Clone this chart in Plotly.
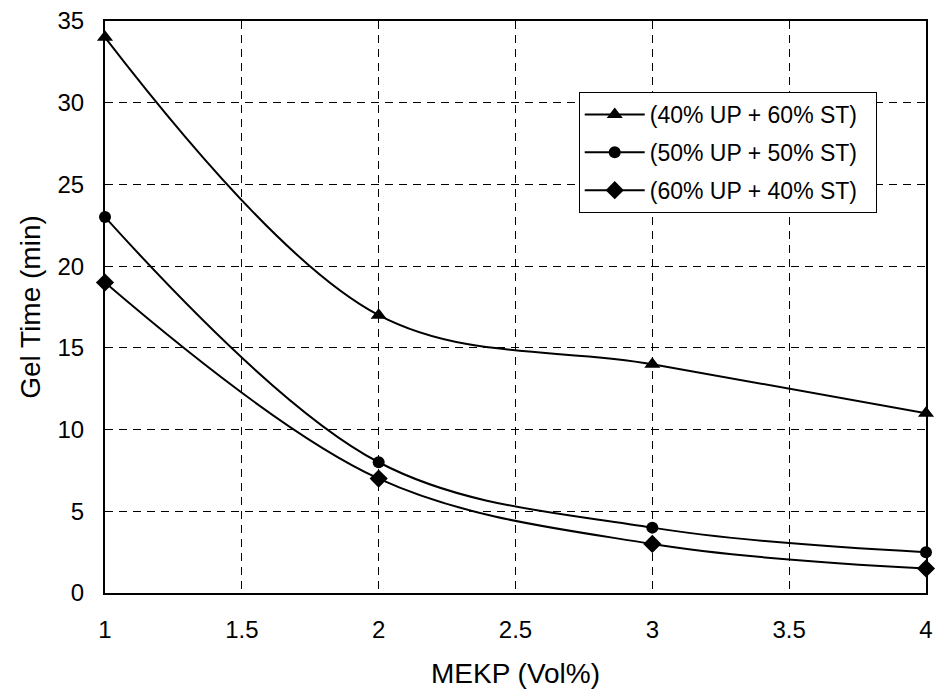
import plotly.graph_objects as go

mekp = [1, 2, 3, 4]
series_names = ["(40% UP + 60% ST)", "(50% UP + 50% ST)", "(60% UP + 40% ST)"]
gel_40_60 = [34, 17, 14, 11]
gel_50_50 = [23, 8, 4, 2.5]
gel_60_40 = [19, 7, 3, 1.5]
symbols = ["triangle-up", "circle", "diamond"]

fig = go.Figure()
for i, (name, vals, sym) in enumerate(zip(series_names, [gel_40_60, gel_50_50, gel_60_40], symbols)):
    fig.add_trace(go.Scatter(
        x=mekp, y=vals, name=name + "\u00a0\u00a0", mode="lines+markers",
        legendgroup=f"g{i}",
        line=dict(color="black", width=2, shape="spline", smoothing=1.0),
        marker=dict(symbol=sym, size=14 if sym != "circle" else 12, color="black"),
        cliponaxis=False,
    ))

FONT = "Liberation Sans"
fig.update_layout(
    width=940, height=691,
    margin=dict(l=105, r=7, t=20, b=98),
    paper_bgcolor="white", plot_bgcolor="white",
    font=dict(family=FONT, size=23, color="black"),
    xaxis=dict(
        range=[1, 4], tickvals=[1, 1.5, 2, 2.5, 3, 3.5, 4],
        ticktext=["1", "1.5", "2", "2.5", "3", "3.5", "4"],
        tickfont=dict(family=FONT, size=24, color="black"),
        showgrid=True, gridcolor="black", griddash="8px,6px", gridwidth=1,
        showline=True, linecolor="black", linewidth=2, mirror=True,
        zeroline=False, ticks="outside", ticklen=14, tickcolor="rgba(0,0,0,0)",
        title=dict(text="MEKP (Vol%)", font=dict(family=FONT, size=28), standoff=22),
    ),
    yaxis=dict(
        range=[0, 35], tickvals=[0, 5, 10, 15, 20, 25, 30, 35],
        tickfont=dict(family=FONT, size=24, color="black"),
        showgrid=True, gridcolor="black", griddash="8px,6px", gridwidth=1,
        showline=True, linecolor="black", linewidth=2, mirror=True,
        zeroline=False, ticks="outside", ticklen=14, tickcolor="rgba(0,0,0,0)",
        title=dict(text="Gel Time (min)", font=dict(family=FONT, size=28), standoff=9),
    ),
    legend=dict(
        x=0.577, y=0.876, xanchor="left", yanchor="top",
        bgcolor="white", bordercolor="black", borderwidth=1,
        font=dict(family=FONT, size=23, color="black"), itemwidth=60,
        tracegroupgap=5,
    ),
)

fig.write_html("out.html")
